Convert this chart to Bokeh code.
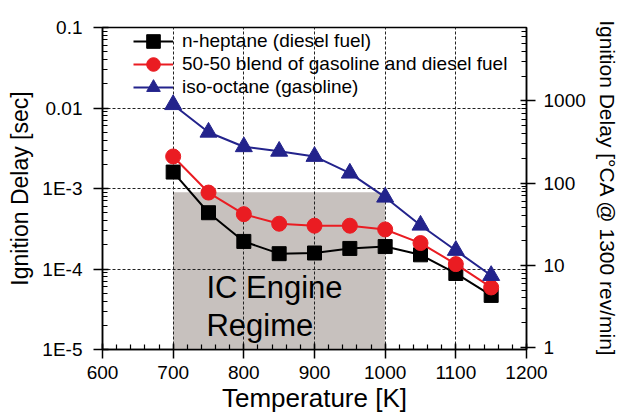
import numpy as np
from bokeh.plotting import figure
from bokeh.models import (LogAxis, Range1d, FixedTicker, Legend, LegendItem,
                          ColumnDataSource, LogScale)
from bokeh.core.properties import value
from bokeh.embed import file_html
from bokeh.resources import INLINE

# ---------------- data ----------------
temperature = [700, 750, 800, 850, 900, 950, 1000, 1050, 1100, 1150]
n_heptane = [1.6e-3, 5.0e-4, 2.2e-4, 1.55e-4, 1.58e-4, 1.8e-4, 1.9e-4, 1.5e-4, 8.8e-5, 4.7e-5]
blend_50_50 = [2.5e-3, 8.9e-4, 4.8e-4, 3.65e-4, 3.45e-4, 3.45e-4, 3.1e-4, 2.1e-4, 1.15e-4, 5.9e-5]
iso_octane = [1.1e-2, 5.0e-3, 3.3e-3, 2.9e-3, 2.5e-3, 1.55e-3, 7.8e-4, 3.5e-4, 1.7e-4, 8.3e-5]

series_labels = ["n-heptane (diesel fuel)",
                 "50-50 blend of gasoline and diesel fuel",
                 "iso-octane (gasoline)"]

regime_T = [700, 1000]
regime_delay = [1e-5, 9e-4]
regime_text = ["IC Engine", "Regime"]

x_range = (600, 1200)
x_ticks = [600, 700, 800, 900, 1000, 1100, 1200]
left_range = (1e-5, 0.1)
left_ticks = [1e-5, 1e-4, 1e-3, 1e-2, 1e-1]
left_labels = ["1E-5", "1E-4", "1E-3", "0.01", "0.1"]
right_range = (0.945, 7.8e3)
right_ticks = [1, 10, 100, 1000]
right_labels = ["1", "10", "100", "1000"]

FONT = "Liberation Sans"
FRAME_H = 322

def log_minor(lo_exp, hi_exp):
    return [m * 10.0 ** e for e in range(lo_exp, hi_exp) for m in range(2, 10)]

p = figure(width=621, height=416, x_range=x_range, y_range=left_range,
           y_axis_type="log", output_backend="svg", toolbar_location=None,
           min_border_left=102, min_border_right=91, min_border_top=27,
           min_border_bottom=67)
p.background_fill_color = "white"
p.border_fill_color = "white"
p.outline_line_color = "black"
p.outline_line_width = 1.5

# regime box (drawn beneath grid)
box = p.quad(left=[regime_T[0]], right=[regime_T[1]], bottom=[regime_delay[0]],
             top=[regime_delay[1]], fill_color="#c7c1be", line_color=None)
box.level = "image"

# x axis
xax = p.xaxis[0]
xax.ticker = FixedTicker(ticks=x_ticks,
                         minor_ticks=list(range(x_range[0], x_range[1] + 1, 20)))
xax.axis_label = "Temperature [K]"

# left axis
yax = p.yaxis[0]
yax.ticker = FixedTicker(ticks=left_ticks, minor_ticks=log_minor(-5, -1))
yax.major_label_overrides = {t: l for t, l in zip(left_ticks, left_labels)}
yax.axis_label = "Ignition Delay [sec]"

# right axis
p.extra_y_ranges = {"ca": Range1d(*right_range)}
p.extra_y_scales = {"ca": LogScale()}
rax = LogAxis(y_range_name="ca")
rax.ticker = FixedTicker(ticks=right_ticks, minor_ticks=log_minor(0, 4))
rax.major_label_overrides = {t: l for t, l in zip(right_ticks, right_labels)}
rax.axis_label = "Ignition Delay [°CA @ 1300 rev/min]"
p.add_layout(rax, "right")

for ax in [xax, yax, rax]:
    ax.axis_line_color = "black"
    ax.axis_line_width = 1.5
    ax.major_tick_line_color = "black"
    ax.major_tick_line_width = 1.5
    ax.minor_tick_line_color = "black"
    ax.minor_tick_line_width = 1.2
    ax.major_tick_out = 9
    ax.major_tick_in = 6
    ax.minor_tick_out = 0
    ax.minor_tick_in = 5
    ax.major_label_text_font = FONT
    ax.major_label_text_font_size = "19px"
    ax.major_label_text_color = "black"
    ax.axis_label_text_font = FONT
    ax.axis_label_text_font_style = "normal"
    ax.axis_label_text_color = "black"

xax.major_label_standoff = 7
yax.major_label_standoff = 11
rax.major_label_standoff = 8
xax.axis_label_text_font_size = "26px"
xax.axis_label_standoff = 1
yax.axis_label_text_font_size = "23px"
yax.axis_label_standoff = 6
rax.axis_label_text_font_size = "21px"
rax.axis_label_standoff = 7

# grid
for g in [p.xgrid[0], p.ygrid[0]]:
    g.grid_line_color = "#222222"
    g.grid_line_dash = "3 2"
    g.grid_line_width = 1
    g.level = "underlay"

# series
colors = ["#000000", "#ea1c22", "#23238c"]
markers = ["square", "circle", "triangle"]
sizes = [14, 15, 17]
row_centers = [14, 37, 60]   # legend rows, px below the frame top
GLYPH_H = 34
for vals, lab, col, mk, sz, rc in zip([n_heptane, blend_50_50, iso_octane],
                                      series_labels, colors, markers, sizes,
                                      row_centers):
    src = ColumnDataSource(dict(x=temperature, y=vals))
    lr = p.line("x", "y", source=src, line_color=col, line_width=2)
    sr = p.scatter("x", "y", source=src, marker=mk, size=sz,
                   fill_color=col, line_color=col)
    leg = Legend(items=[LegendItem(label=lab, renderers=[lr, sr])],
                 location=(31, FRAME_H - (rc - GLYPH_H / 2) - GLYPH_H))
    leg.border_line_alpha = 0
    leg.background_fill_alpha = 0
    leg.padding = 0
    leg.margin = 0
    leg.spacing = 0
    leg.glyph_width = 40
    leg.glyph_height = GLYPH_H
    leg.label_height = GLYPH_H
    leg.label_standoff = 9
    leg.label_text_font = FONT
    leg.label_text_font_size = "19px"
    leg.label_text_color = "black"
    leg.label_text_baseline = "middle"
    p.add_layout(leg, "center")

# regime annotation
p.text(x=[747, 747], y=[5.9e-5, 2.0e-5], text=regime_text,
       text_font=value(FONT), text_font_size="31px", text_color="black",
       text_baseline="alphabetic", text_align="left")

open("out.html", "w").write(file_html(p, INLINE))
